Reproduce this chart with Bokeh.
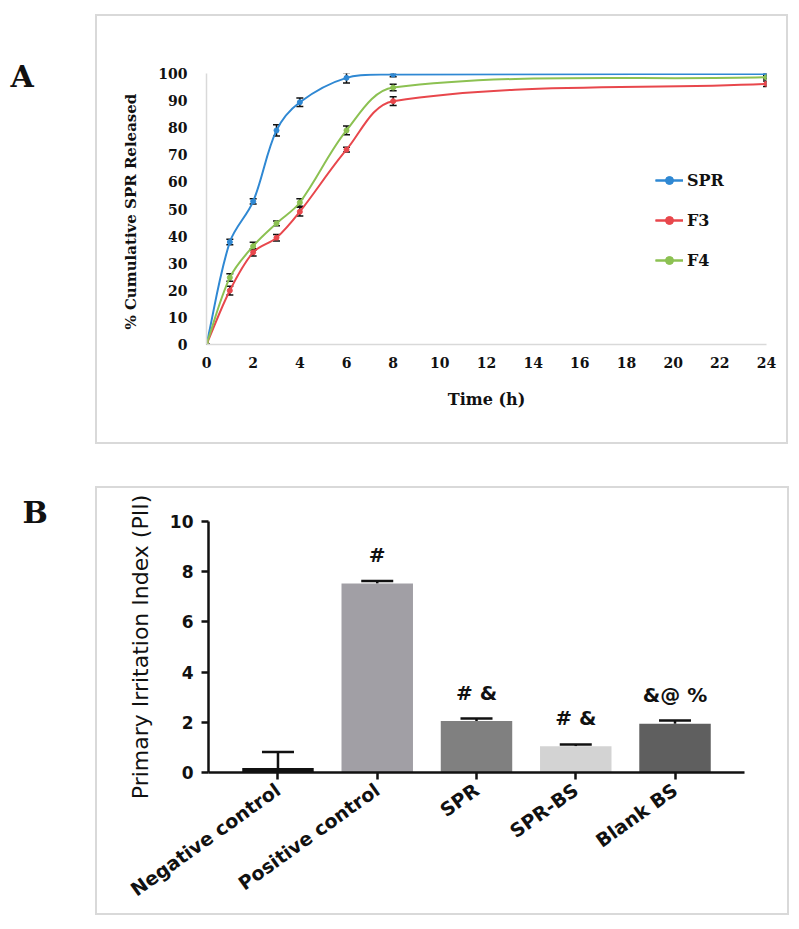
import math
from bokeh.plotting import figure
from bokeh.models import (Range1d, FixedTicker, ColumnDataSource, Whisker, TeeHead,
                          Legend, LegendItem)
from bokeh.layouts import column, row
from bokeh.embed import file_html
from bokeh.resources import INLINE
from bokeh.core.properties import value

# ---------------- Panel A data ----------------
time_h = [0, 1, 2, 3, 4, 6, 8, 24]
spr = [0, 37.8, 52.8, 79.0, 89.4, 98.4, 99.6, 99.8]
spr_err = [0, 1.0, 1.0, 2.1, 1.6, 1.9, 0.8, 0.4]
f3 = [0, 19.9, 34.0, 39.4, 49.0, 71.9, 89.8, 96.2]
f3_err = [0, 1.6, 1.3, 1.2, 1.6, 0.9, 1.6, 1.0]
f4 = [0, 24.7, 36.3, 44.7, 52.4, 79.0, 94.8, 98.6]
f4_err = [0, 1.4, 1.4, 0.9, 1.4, 1.6, 1.2, 0.6]
series_names = ["SPR", "F3", "F4"]
x_ticks_a = [0, 2, 4, 6, 8, 10, 12, 14, 16, 18, 20, 22, 24]
y_ticks_a = [0, 10, 20, 30, 40, 50, 60, 70, 80, 90, 100]

# ---------------- Panel B data ----------------
groups = ["Negative control", "Positive control", "SPR", "SPR-BS", "Blank BS"]
pii = [0.18, 7.53, 2.05, 1.05, 1.94]
pii_err = [0.64, 0.10, 0.10, 0.07, 0.13]
marks = ["", "#", "# &", "# &", "&@ %"]
y_ticks_b = [0, 2, 4, 6, 8, 10]

panel_letters = ["A", "B"]

# ---------------- styles ----------------
series_colors = ["#2f88d3", "#e8474c", "#8cc152"]
bar_colors = ["#111111", "#a19fa5", "#808080", "#d3d3d3", "#5f5f5f"]
SERIF = "DejaVu Serif"
SANS = "DejaVu Sans"
FRAME = "#d9d9d9"
PX_X = 556 / 24.0    # approx. screen pixels per hour (for smoothing weights)
PX_Y = 267 / 100.0   # approx. screen pixels per percent


def smooth_parts(xs, ys):
    """Bezier control points for a smoothed line through the data points
    (cardinal spline with tangents weighted by neighbouring segment lengths)."""
    n = len(xs)
    d = [math.hypot((xs[i + 1] - xs[i]) * PX_X, (ys[i + 1] - ys[i]) * PX_Y) for i in range(n - 1)]
    tx, ty = [], []
    for i in range(n):
        a = max(i - 1, 0)
        b = min(i + 1, n - 1)
        tx.append(xs[b] - xs[a])
        ty.append(ys[b] - ys[a])
    out = dict(x0=[], y0=[], x1=[], y1=[], cx0=[], cy0=[], cx1=[], cy1=[])
    for i in range(n - 1):
        dl = d[i - 1] if i > 0 else 0.0
        dr = d[i + 1] if i + 1 < n - 1 else 0.0
        k0 = d[i] / (dl + d[i]) / 3.0
        k1 = d[i] / (d[i] + dr) / 3.0
        out["x0"].append(xs[i]); out["y0"].append(ys[i])
        out["x1"].append(xs[i + 1]); out["y1"].append(ys[i + 1])
        out["cx0"].append(xs[i] + tx[i] * k0)
        out["cy0"].append(ys[i] + ty[i] * k0)
        out["cx1"].append(xs[i + 1] - tx[i + 1] * k1)
        out["cy1"].append(ys[i + 1] - ty[i + 1] * k1)
    return out


def letter_fig(letter, w, h, lx, ly):
    # pixel-like ranges, y growing downwards
    f = figure(width=w, height=h, output_backend="svg", toolbar_location=None,
               x_range=Range1d(0, w), y_range=Range1d(h, 0),
               min_border=0, min_border_left=0, min_border_right=0,
               min_border_top=0, min_border_bottom=0)
    f.axis.visible = False
    f.grid.visible = False
    f.outline_line_color = None
    f.text(x=[lx], y=[ly], text=[letter], text_font=value(SERIF), text_font_style="bold",
           text_font_size="30px", text_baseline="middle", text_align="left",
           text_color="#111111")
    return f


# ================= Panel A =================
pa = figure(width=693, height=430, output_backend="svg", toolbar_location=None,
            x_range=Range1d(0, 24), y_range=Range1d(0, 100),
            min_border_left=109, min_border_right=24, min_border_top=57, min_border_bottom=102,
            margin=(14, 0, 0, 0))
pa.styles = {"border": "2px solid " + FRAME}
pa.outline_line_color = None
pa.xgrid.visible = False
pa.ygrid.visible = False
pa.background_fill_color = "white"
pa.border_fill_color = "white"

for ax in (pa.xaxis[0], pa.yaxis[0]):
    ax.axis_line_color = FRAME
    ax.axis_line_width = 1.5
    ax.major_tick_out = 0
    ax.major_tick_in = 0
    ax.minor_tick_out = 0
    ax.minor_tick_in = 0
    ax.major_label_text_font = SERIF
    ax.major_label_text_font_style = "bold"
    ax.major_label_text_font_size = "14px"
    ax.major_label_text_color = "#111111"
    ax.axis_label_text_font = SERIF
    ax.axis_label_text_font_style = "bold"
    ax.axis_label_text_color = "#111111"

pa.xaxis.ticker = FixedTicker(ticks=x_ticks_a)
pa.yaxis.ticker = FixedTicker(ticks=y_ticks_a)
pa.xaxis.major_label_standoff = 12
pa.yaxis.major_label_standoff = 19
pa.xaxis.axis_label = "Time (h)"
pa.xaxis.axis_label_text_font_size = "16px"
pa.xaxis.axis_label_standoff = 19
pa.yaxis.axis_label = "% Cumulative SPR  Released"
pa.yaxis.axis_label_text_font_size = "15px"
pa.yaxis.axis_label_standoff = 15

legend_items = []
for name, ys, errs, col in zip(series_names, [spr, f3, f4], [spr_err, f3_err, f4_err], series_colors):
    parts = smooth_parts(time_h, ys)
    bz = pa.bezier(x0="x0", y0="y0", x1="x1", y1="y1", cx0="cx0", cy0="cy0", cx1="cx1", cy1="cy1",
                   source=ColumnDataSource(parts), line_color=col, line_width=2)
    src = ColumnDataSource(dict(t=time_h, lo=[y - e for y, e in zip(ys, errs)],
                                hi=[y + e for y, e in zip(ys, errs)]))
    wh = Whisker(base="t", lower="lo", upper="hi", source=src, dimension="height",
                 line_color="#111111", line_width=1.5,
                 upper_head=TeeHead(size=7, line_color="#111111", line_width=1.5),
                 lower_head=TeeHead(size=7, line_color="#111111", line_width=1.5))
    pa.add_layout(wh)
    sc = pa.scatter(time_h, ys, size=5, color=col)
    ln = pa.line(x=[float("nan")], y=[float("nan")], line_color=col, line_width=2)
    legend_items.append(LegendItem(label=name, renderers=[bz, ln, sc]))

leg = Legend(items=legend_items, location=(449, 74), orientation="vertical",
             spacing=20, glyph_height=20, glyph_width=28, label_height=20,
             label_standoff=4, padding=0, margin=0, border_line_color=None,
             background_fill_alpha=0, label_text_font=SERIF,
             label_text_font_style="bold", label_text_font_size="16px",
             label_text_color="#111111")
pa.add_layout(leg, "center")

# ================= Panel B =================
idx = list(range(len(groups)))
pb = figure(width=694, height=429, output_backend="svg", toolbar_location=None,
            x_range=Range1d(-0.7, 4.7), y_range=Range1d(0, 10),
            min_border_left=111, min_border_right=47, min_border_top=33, min_border_bottom=145,
            margin=(42, 0, 0, 0))
pb.styles = {"border": "2px solid " + FRAME}
pb.outline_line_color = None
pb.xgrid.visible = False
pb.ygrid.visible = False
pb.background_fill_color = "white"
pb.border_fill_color = "white"

pb.vbar(x=idx, top=pii, width=0.72, fill_color=bar_colors, line_color=None)

tops = [v + e for v, e in zip(pii, pii_err)]
bsrc = ColumnDataSource(dict(x=idx, lo=pii, hi=tops))
pb.add_layout(Whisker(base="x", lower="lo", upper="hi", source=bsrc, dimension="height",
                      line_color="#111111", line_width=2.5,
                      upper_head=TeeHead(size=32, line_color="#111111", line_width=2.5),
                      lower_head=None))

pb.text(x=idx, y=tops, text=marks, text_align="center", text_baseline="bottom",
        y_offset=-14, text_font=value(SANS), text_font_style="bold",
        text_font_size="20px", text_color="#111111")

for ax in (pb.xaxis[0], pb.yaxis[0]):
    ax.axis_line_color = "#111111"
    ax.axis_line_width = 2.5
    ax.major_tick_line_color = "#111111"
    ax.major_tick_line_width = 2.5
    ax.major_tick_out = 7
    ax.major_tick_in = 0
    ax.minor_tick_out = 0
    ax.minor_tick_in = 0
    ax.major_label_text_font = SANS
    ax.major_label_text_font_style = "bold"
    ax.major_label_text_color = "#111111"

pb.yaxis.ticker = FixedTicker(ticks=y_ticks_b)
pb.yaxis.major_label_text_font_size = "17px"
pb.yaxis.major_label_standoff = 8
pb.yaxis.axis_label = "Primary Irritation Index (PII)"
pb.yaxis.axis_label_text_font = SANS
pb.yaxis.axis_label_text_font_style = "normal"
pb.yaxis.axis_label_text_font_size = "22px"
pb.yaxis.axis_label_text_color = "#111111"
pb.yaxis.axis_label_standoff = 14

pb.xaxis.ticker = FixedTicker(ticks=idx)
pb.xaxis.major_label_overrides = {i: g for i, g in zip(idx, groups)}
pb.xaxis.major_label_orientation = 0.62
pb.xaxis.major_label_text_font_size = "19px"
pb.xaxis.major_label_standoff = 8

la = letter_fig(panel_letters[0], 95, 444, 10, 30)
lb = letter_fig(panel_letters[1], 95, 471, 22, 56)

layout = column(row(la, pa, spacing=0), row(lb, pb, spacing=0), spacing=0)
open("out.html", "w").write(file_html(layout, INLINE))
